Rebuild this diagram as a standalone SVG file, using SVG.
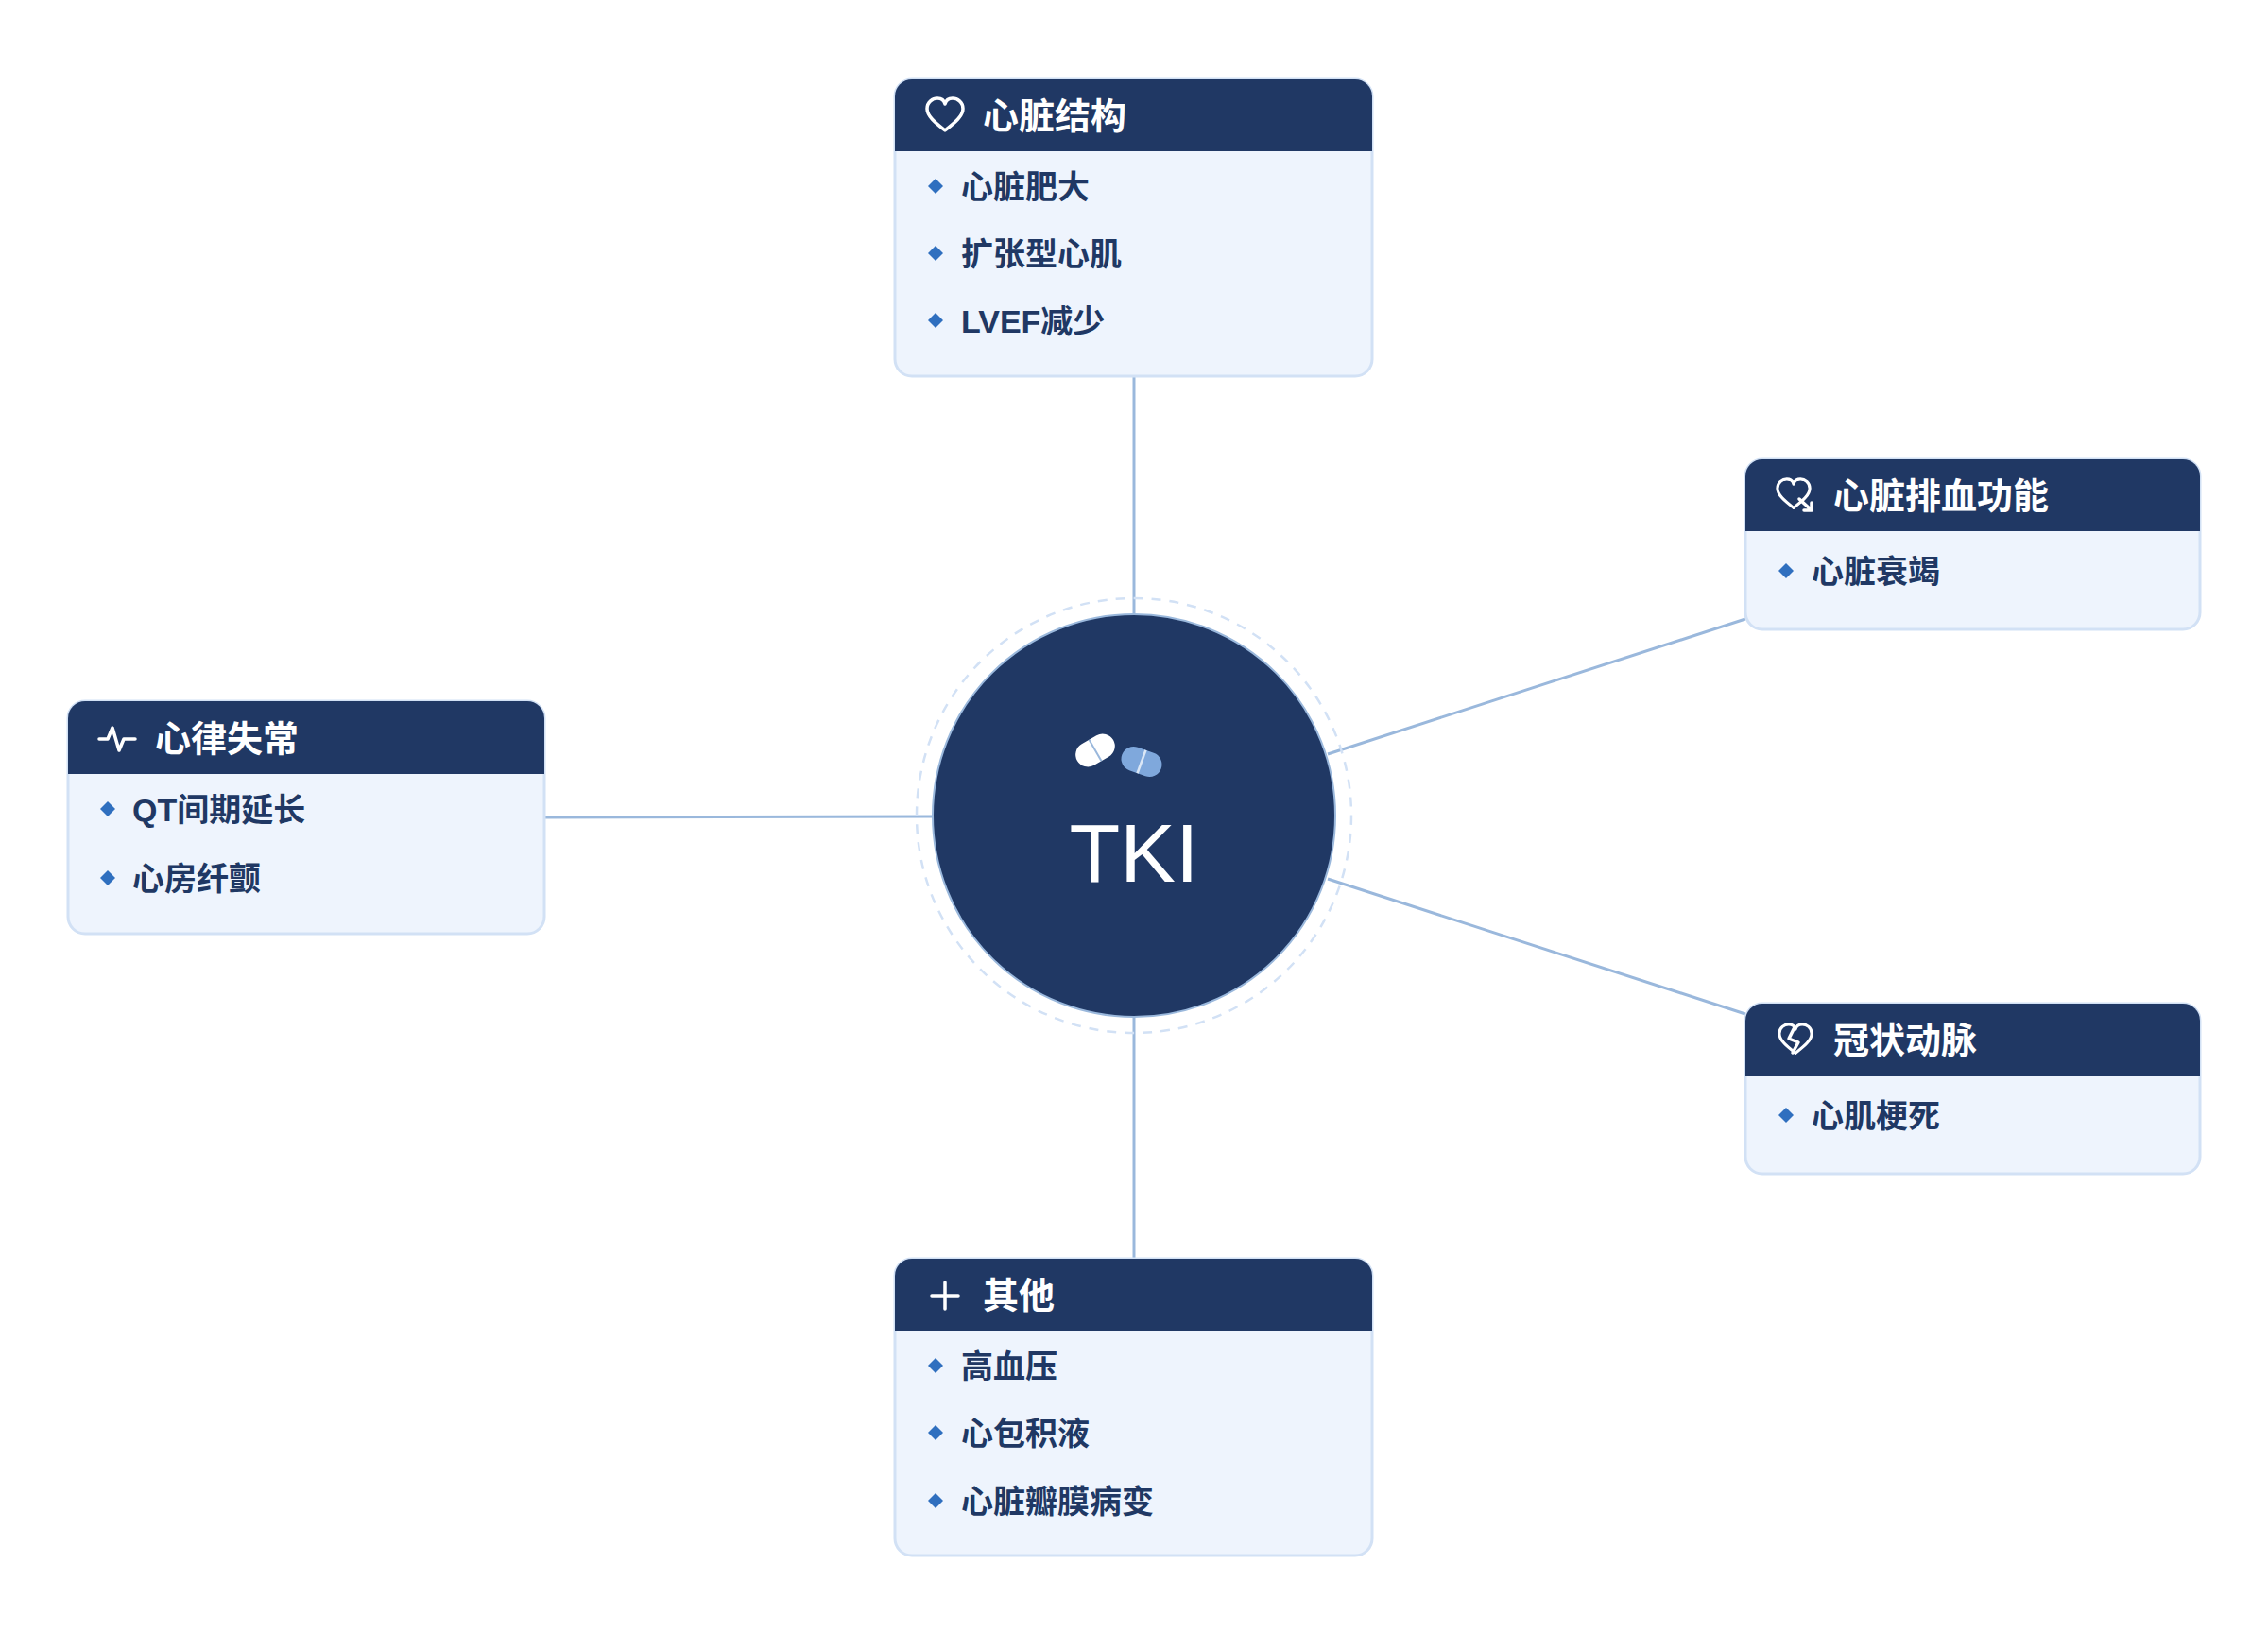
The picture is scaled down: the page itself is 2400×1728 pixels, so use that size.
<svg xmlns="http://www.w3.org/2000/svg" width="2400" height="1728" viewBox="0 0 2400 1728">
<style>
.card{fill:#eef4fd;stroke:#d2e1f5;stroke-width:3}
.hdr{fill:#203864}
.ht{font-family:"Noto Sans CJK SC","Liberation Sans",sans-serif;font-weight:700;font-size:38px;fill:#fff}
.it{font-family:"Liberation Sans","Noto Sans CJK SC",sans-serif;font-weight:700;font-size:34px;fill:#203864}
.dot{fill:#2f6fbf}
.ic{fill:none;stroke:#fff;stroke-width:3.5;stroke-linecap:round;stroke-linejoin:round}
.con{stroke:#9ab8dc;stroke-width:3;fill:none}
</style>
<defs>
<path id="d" d="M0,-8 L8,0 L0,8 L-8,0Z" class="dot"/>
<path id="heart" d="M0,16 C-10,8 -19,1 -19,-7 C-19,-14 -13,-18 -8,-18 C-4,-18 -1,-16 0,-12 C1,-16 4,-18 8,-18 C13,-18 19,-14 19,-7 C19,1 10,8 0,16Z"/>
</defs>
<g id="connectors">
<line class="con" x1="1200" y1="398" x2="1200" y2="650"/>
<line class="con" x1="1200" y1="1076" x2="1200" y2="1332"/>
<line class="con" x1="576" y1="865" x2="987" y2="864"/>
<line class="con" x1="1847" y1="655" x2="1405" y2="798"/>
<line class="con" x1="1405" y1="930" x2="1847" y2="1073"/>
</g>
<g id="center">
<circle cx="1200" cy="863" r="230" fill="none" stroke="#d2e1f5" stroke-width="2.5" stroke-dasharray="10 9"/>
<circle cx="1200" cy="863" r="213" fill="#203864" stroke="#9ab8dc" stroke-width="2"/>
<g transform="translate(1159,794) rotate(-30)"><rect x="-22" y="-13" width="44" height="26" rx="13" fill="#fff"/><line x1="0" y1="-13" x2="0" y2="13" stroke="#9ab8dc" stroke-width="2"/></g>
<g transform="translate(1208,806) rotate(20)"><rect x="-22" y="-13" width="44" height="26" rx="13" fill="#7fa8dc"/><line x1="0" y1="-13" x2="0" y2="13" stroke="#dbe7f6" stroke-width="2.5"/></g>
<text x="1200" y="933" text-anchor="middle" font-family="Liberation Sans,sans-serif" font-size="88" fill="#fff">TKI</text>
</g>
<g id="structure">
<rect class="card" x="947" y="84" width="505" height="314" rx="18"/>
<path class="hdr" d="M947,160 V102 A18,18 0 0 1 965,84 H1434 A18,18 0 0 1 1452,102 V160Z"/>
<use href="#heart" class="ic" transform="translate(1000,122)"/>
<text class="ht" x="1040" y="136">心脏结构</text>
<use href="#d" x="990" y="197"/><text class="it" x="1017" y="210">心脏肥大</text>
<use href="#d" x="990" y="268"/><text class="it" x="1017" y="281">扩张型心肌</text>
<use href="#d" x="990" y="339"/><text class="it" x="1017" y="352">LVEF减少</text>
</g>
<g id="pump">
<rect class="card" x="1847" y="486" width="481" height="180" rx="18"/>
<path class="hdr" d="M1847,562 V504 A18,18 0 0 1 1865,486 H2310 A18,18 0 0 1 2328,504 V562Z"/>
<use href="#heart" class="ic" transform="translate(1898,523) scale(0.9)"/>
<path class="ic" d="M1904,528 L1917,540 M1917,532 V540 H1909" stroke-width="3"/>
<text class="ht" x="1940" y="538">心脏排血功能</text>
<use href="#d" x="1890" y="604"/><text class="it" x="1917" y="617">心脏衰竭</text>
</g>
<g id="coronary">
<rect class="card" x="1847" y="1062" width="481" height="180" rx="18"/>
<path class="hdr" d="M1847,1139 V1080 A18,18 0 0 1 1865,1062 H2310 A18,18 0 0 1 2328,1080 V1139Z"/>
<use href="#heart" class="ic" transform="translate(1900,1100) scale(0.9)"/>
<path class="ic" d="M1899,1087 L1893,1099 L1903,1103 L1897,1114" stroke-width="3"/>
<text class="ht" x="1940" y="1114">冠状动脉</text>
<use href="#d" x="1890" y="1180"/><text class="it" x="1917" y="1193">心肌梗死</text>
</g>
<g id="rhythm">
<rect class="card" x="72" y="742" width="504" height="246" rx="18"/>
<path class="hdr" d="M72,819 V760 A18,18 0 0 1 90,742 H558 A18,18 0 0 1 576,760 V819Z"/>
<path class="ic" d="M105,782 H114 L119,770 L126,794 L131,782 H143" stroke-width="3"/>
<text class="ht" x="164" y="795">心律失常</text>
<use href="#d" x="114" y="856"/><text class="it" x="140" y="869">QT间期延长</text>
<use href="#d" x="114" y="929"/><text class="it" x="140" y="942">心房纤颤</text>
</g>
<g id="other">
<rect class="card" x="947" y="1332" width="505" height="314" rx="18"/>
<path class="hdr" d="M947,1408 V1350 A18,18 0 0 1 965,1332 H1434 A18,18 0 0 1 1452,1350 V1408Z"/>
<path class="ic" d="M1000,1357 V1385 M986,1371 H1014" stroke-width="3"/>
<text class="ht" x="1040" y="1384">其他</text>
<use href="#d" x="990" y="1445"/><text class="it" x="1017" y="1458">高血压</text>
<use href="#d" x="990" y="1516"/><text class="it" x="1017" y="1529">心包积液</text>
<use href="#d" x="990" y="1588"/><text class="it" x="1017" y="1601">心脏瓣膜病变</text>
</g>
</svg>
